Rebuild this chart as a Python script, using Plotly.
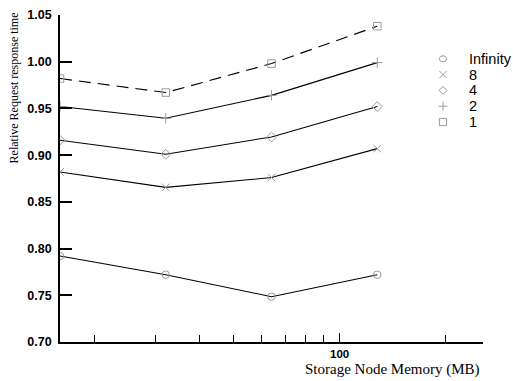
import plotly.graph_objects as go

# Storage node memory (MB) and relative request response time per series
memory_mb = [16, 32, 64, 128]
series_names = ["Infinity", "8", "4", "2", "1"]
resp_infinity = [0.792, 0.772, 0.7485, 0.772]
resp_8 = [0.882, 0.8655, 0.876, 0.907]
resp_4 = [0.916, 0.901, 0.9195, 0.952]
resp_2 = [0.952, 0.9395, 0.964, 0.999]
resp_1 = [0.982, 0.967, 0.998, 1.038]

y_ticks = [0.70, 0.75, 0.80, 0.85, 0.90, 0.95, 1.00, 1.05]
x_minor_ticks = [20, 30, 40, 50, 60, 70, 80, 90, 200]

series_values = [resp_infinity, resp_8, resp_4, resp_2, resp_1]
symbols = ["circle-open", "x-thin-open", "diamond-open", "cross-thin-open", "square-open"]
dashes = ["solid", "solid", "solid", "solid", "12px,7px"]

MARK = "#9a9a9a"

# figure geometry (pixels)
W, H = 513, 381
M_L, M_R, M_T, M_B = 60, 30, 8, 39
PW, PH = W - M_L - M_R, H - M_T - M_B


def px_to_paper_x(px):
    return (px - M_L) / PW


def px_to_paper_y(py):
    return (H - M_B - py) / PH


fig = go.Figure()
for name, vals, sym, dash in zip(series_names, series_values, symbols, dashes):
    fig.add_trace(go.Scatter(
        x=memory_mb, y=vals, mode="lines+markers", name=name, showlegend=False,
        line=dict(color="black", width=1.1, dash=dash),
        marker=dict(symbol=sym, size=7.5, color=MARK, line=dict(color=MARK, width=1)),
    ))

# hand-built key: grey symbol glyphs with labels, stacked tightly
KEY_SYM_X, KEY_TEXT_X, KEY_TOP, KEY_STEP, R = 443, 467, 52.7, 16.15, 3.6
key_paths = {
    "x-thin-open": f"M{-R},{-R}L{R},{R}M{-R},{R}L{R},{-R}",
    "cross-thin-open": f"M{-R - 0.8},0L{R + 0.8},0M0,{-R - 0.8}L0,{R + 0.8}",
    "diamond-open": f"M0,{-R - 0.4}L{R + 0.4},0L0,{R + 0.4}L{-R - 0.4},0Z",
}
shapes = []
annotations = []
for i, (name, sym) in enumerate(zip(series_names, symbols)):
    ya = px_to_paper_y(KEY_TOP + KEY_STEP * i)
    common = dict(xref="paper", yref="paper", xsizemode="pixel", ysizemode="pixel",
                  xanchor=px_to_paper_x(KEY_SYM_X), yanchor=ya,
                  line=dict(color=MARK, width=1), fillcolor="rgba(0,0,0,0)")
    if sym == "circle-open":
        shapes.append(dict(type="circle", x0=-R, x1=R, y0=-R + 0.6, y1=R - 0.6, **common))
    elif sym == "square-open":
        shapes.append(dict(type="rect", x0=-R, x1=R, y0=-R, y1=R, **common))
    else:
        shapes.append(dict(type="path", path=key_paths[sym], **common))
    annotations.append(dict(
        text=name, xref="paper", yref="paper", x=px_to_paper_x(KEY_TEXT_X), y=ya,
        xanchor="left", yanchor="middle", showarrow=False,
        font=dict(family="Liberation Sans, Arial", size=14.5, color="black")))

annotations += [
    dict(text="Storage Node Memory (MB)", xref="paper", yref="paper",
         x=px_to_paper_x(482), y=px_to_paper_y(370), xanchor="right", yanchor="middle",
         showarrow=False,
         font=dict(family="Liberation Serif, Times New Roman", size=15, color="black")),
    dict(text="Relative Request response time", xref="paper", yref="paper",
         x=px_to_paper_x(14), y=px_to_paper_y(83), xanchor="center", yanchor="middle",
         showarrow=False, textangle=-90,
         font=dict(family="Liberation Serif, Times New Roman", size=12, color="black")),
]

fig.update_layout(
    width=W, height=H,
    margin=dict(l=M_L, r=M_R, t=M_T, b=M_B),
    paper_bgcolor="white", plot_bgcolor="white",
    showlegend=False,
    xaxis=dict(
        type="log", range=[1.20412, 2.40824],
        showgrid=False, zeroline=False,
        showline=True, linecolor="black", linewidth=1.6,
        tickmode="array", tickvals=[100], ticktext=["100"],
        ticks="inside", ticklen=9, tickwidth=1.3, tickcolor="black",
        tickfont=dict(family="Liberation Sans, Arial", size=11.5, color="black", weight="bold"),
        minor=dict(tickmode="array", tickvals=x_minor_ticks, ticks="inside",
                   ticklen=7, tickwidth=1.3, tickcolor="black"),
    ),
    yaxis=dict(
        range=[0.70, 1.05],
        showgrid=False, zeroline=False,
        showline=True, linecolor="black", linewidth=1.6,
        tickmode="array", tickvals=y_ticks,
        ticktext=[f"{v:.2f}" for v in y_ticks],
        ticks="inside", ticklen=12, tickwidth=1.5, tickcolor="black",
        ticklabelstandoff=4,
        tickfont=dict(family="Liberation Sans, Arial", size=12.5, color="black", weight="bold"),
    ),
    shapes=shapes,
    annotations=annotations,
)

fig.write_html("out.html")
